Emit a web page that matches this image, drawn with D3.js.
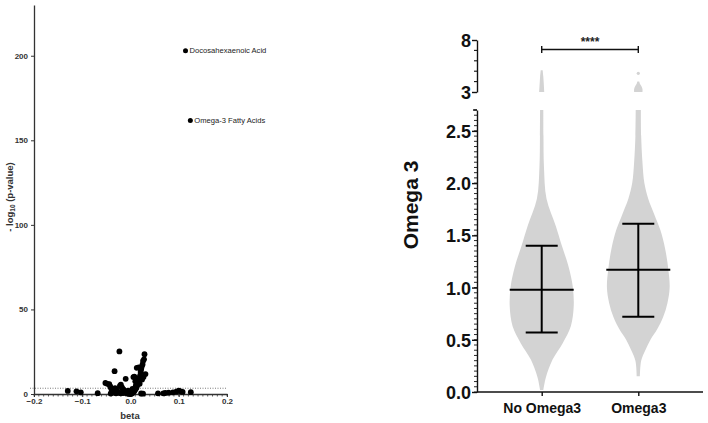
<!DOCTYPE html>
<html><head><meta charset="utf-8">
<script src="https://cdn.jsdelivr.net/npm/d3@7/dist/d3.min.js"></script>
<style>body{margin:0;background:#fff}svg{display:block;font-family:"Liberation Sans",Arial,sans-serif}</style>
</head><body><svg id="c" width="708" height="423"></svg>
<script>
// ---------- Left: volcano plot data ----------
const betaVals = [-0.130,-0.112,-0.103,-0.068,-0.052,-0.048,-0.044,-0.042,-0.040,-0.038,-0.036,-0.041,-0.035,
 -0.033,-0.023,-0.010,-0.032,-0.030,-0.028,-0.026,-0.024,-0.022,-0.020,-0.018,-0.016,-0.014,-0.012,-0.010,-0.008,
 -0.006,-0.004,-0.002,0.000,0.002,0.004,0.006,0.008,0.010,0.012,0.013,0.014,0.015,0.016,0.018,0.020,0.021,0.022,
 0.023,0.025,0.026,0.028,0.029,0.017,0.013,0.008,0.006,0.010,0.031,0.027,0.024,0.019,0.011,0.004,0.002,-0.020,
 -0.015,-0.030,-0.005,0.022,0.026,0.057,0.068,0.072,0.079,0.088,0.095,0.100,0.104,0.108,0.125];
const logPVals = [1.8,1.6,1.0,0.5,6.5,6.0,5.8,4.5,3.2,2.0,1.5,0.3,0.8,
 13.5,25.2,9.0,3.5,2.6,2.0,1.2,0.7,4.8,5.5,4.0,3.0,2.4,1.5,0.9,0.5,
 0.3,0.2,0.1,0.0,0.2,0.6,1.1,1.8,2.6,3.5,4.5,5.5,7.0,8.0,9.5,11.0,13.0,14.5,
 16.0,17.5,19.5,20.5,23.5,15.8,15.5,10.2,10.0,7.5,11.8,10.0,8.5,6.0,5.0,3.0,1.5,0.4,
 0.6,0.5,2.0,0.3,0.2,0.4,0.4,0.6,0.8,1.0,1.4,2.0,1.6,1.2,1.1];
const labeledNames = ["Docosahexaenoic Acid","Omega-3 Fatty Acids"];
const labeledBeta = [0.114,0.124];
const labeledLogP = [203,161.7];
const threshold = 3.4;
const volcanoXTicks = [-0.2,-0.1,0.0,0.1,0.2];
const volcanoYTicks = [0,50,100,150,200];

// ---------- Right: violin data ----------
const groups = ["No Omega3","Omega3"];
const noOmegaLevels = [0.02,0.14,0.31,0.47,0.63,0.82,1.01,1.20,1.40,1.59,1.85,2.16,2.45,2.70,3.0,3.5,4.0,4.5,5.1];
const noOmegaDensity = [0.05,0.13,0.34,0.66,0.91,1.0,0.97,0.84,0.63,0.44,0.15,0.07,0.055,0.05,0.08,0.07,0.06,0.05,0.03];
const omegaLevels = [0.15,0.3,0.4,0.5,0.6,0.72,0.85,1.0,1.17,1.37,1.55,1.7,1.85,2.0,2.2,2.45,2.70,3.0,3.3,3.6,3.8,4.0];
const omegaDensity = [0.05,0.09,0.22,0.38,0.59,0.78,0.91,0.98,0.94,0.84,0.69,0.5,0.31,0.19,0.13,0.09,0.08,0.13,0.13,0.09,0.05,0.03];
const omegaOutliers = [4.8];
const means = [0.98,1.17];
const upperSD = [1.40,1.61];
const lowerSD = [0.57,0.72];
const lowTicks = [0.0,0.5,1.0,1.5,2.0,2.5];
const topTicks = [3,8];
const sigLabel = "****";

const svg = d3.select("#c");

// ===== Volcano =====
const vx = d3.scaleLinear().domain([-0.2,0.2]).range([34,227]);
const vy = d3.scaleLinear().domain([0,230]).range([394,5]);
const axCol = "#333";
const gV = svg.append("g");
const xAxV = d3.axisBottom(vx).tickValues(volcanoXTicks).tickFormat(d3.format(".1f")).tickSize(3).tickSizeOuter(0).tickPadding(1.5);
const gx = gV.append("g").attr("transform","translate(0,394)").call(xAxV);
gx.selectAll("text").attr("font-size",8).attr("font-weight","bold").attr("fill",axCol);
gx.selectAll("line,path").attr("stroke",axCol);
gV.append("g").selectAll("line").data(d3.range(-20,21).map(i=>i/100)).join("line")
  .attr("x1",d=>vx(d)).attr("x2",d=>vx(d)).attr("y1",394).attr("y2",396.5).attr("stroke",axCol).attr("stroke-width",0.8);
const yAxV = d3.axisLeft(vy).tickValues(volcanoYTicks).tickSize(3).tickSizeOuter(0);
const gy = gV.append("g").attr("transform","translate(34,0)").call(yAxV);
gy.selectAll("text").attr("font-size",8).attr("font-weight","bold").attr("fill",axCol);
gy.selectAll("line,path").attr("stroke",axCol);
gy.select("path").attr("stroke-width",1.3);
gx.select("path").attr("stroke-width",1.3);
gV.append("line").attr("x1",30).attr("x2",vx(0.2)).attr("y1",vy(threshold)).attr("y2",vy(threshold))
  .attr("stroke","#444").attr("stroke-width",0.7).attr("stroke-dasharray","1,1.5");
gV.append("g").selectAll("circle").data(betaVals.map((b,i)=>[b,logPVals[i]])).join("circle")
  .attr("cx",d=>vx(d[0])).attr("cy",d=>vy(d[1])).attr("r",2.9).attr("fill","#000");
const lab = gV.append("g").selectAll("g").data(labeledNames.map((n,i)=>({n,b:labeledBeta[i],p:labeledLogP[i]}))).join("g");
lab.append("circle").attr("cx",d=>vx(d.b)).attr("cy",d=>vy(d.p)).attr("r",2.5).attr("fill","#000");
lab.append("text").attr("x",d=>vx(d.b)+4).attr("y",d=>vy(d.p)).attr("dy","0.35em")
  .attr("font-size",7.6).attr("fill","#222").text(d=>d.n);
gV.append("text").attr("x",130).attr("y",419).attr("text-anchor","middle").attr("font-size",9.5)
  .attr("font-weight","bold").attr("fill",axCol).text("beta");
const yl = gV.append("text").attr("transform","translate(13,197) rotate(-90)").attr("text-anchor","middle")
  .attr("font-size",9.5).attr("font-weight","bold").attr("fill",axCol);
yl.append("tspan").text("- log");
yl.append("tspan").attr("font-size",6.5).attr("dy",2).text("10");
yl.append("tspan").attr("dy",-2).text(" (p-value)");

// ===== Violin =====
const cx = d3.scalePoint().domain(groups).range([477,703]).padding(0.67);
const yLow = d3.scaleLinear().domain([0,2.7]).range([392,110]);
const yTop = d3.scaleLinear().domain([3,8]).range([92,40]);
const wS = d3.scaleLinear().domain([0,1]).range([0,32]);
const gR = svg.append("g");
const gray = "#d3d3d3";
const profiles = [[noOmegaLevels,noOmegaDensity],[omegaLevels,omegaDensity]];
profiles.forEach(([lv,dn],gi)=>{
  const c = cx(groups[gi]);
  const pts = lv.map((v,i)=>({v,d:dn[i]}));
  [[pts.filter(p=>p.v<=2.7),yLow],[pts.filter(p=>p.v>=3),yTop]].forEach(([seg,ys])=>{
    const area = d3.area().y(p=>ys(p.v)).x0(p=>c-wS(p.d)).x1(p=>c+wS(p.d)).curve(d3.curveCatmullRom);
    gR.append("path").datum(seg).attr("d",area).attr("fill",gray);
  });
});
gR.selectAll("circle.out").data(omegaOutliers).join("circle").attr("class","out")
  .attr("cx",cx("Omega3")).attr("cy",d=>yTop(d)).attr("r",1.6).attr("fill",gray);
groups.forEach((g,i)=>{
  const c = cx(g);
  const eb = gR.append("g").attr("stroke","#000").attr("stroke-width",2);
  eb.append("line").attr("x1",c).attr("x2",c).attr("y1",yLow(upperSD[i])).attr("y2",yLow(lowerSD[i]));
  eb.append("line").attr("x1",c-32).attr("x2",c+32).attr("y1",yLow(means[i])).attr("y2",yLow(means[i]));
  [upperSD[i],lowerSD[i]].forEach(v=>eb.append("line").attr("x1",c-16).attr("x2",c+16).attr("y1",yLow(v)).attr("y2",yLow(v)));
});
const axL = gR.append("g").attr("transform","translate(477,0)")
  .call(d3.axisLeft(yLow).tickValues(lowTicks).tickFormat(d3.format(".1f")).tickSize(5).tickSizeOuter(0));
axL.selectAll("text").attr("font-size",18).attr("font-weight","bold").attr("fill","#111").attr("x",-6).attr("dy","0.36em");
axL.selectAll("line,path").attr("stroke","#111").attr("stroke-width",1.4);
gR.append("g").selectAll("line").data(d3.range(0,55).map(i=>i*0.05)).join("line")
  .attr("x1",474).attr("x2",477).attr("y1",d=>yLow(d)).attr("y2",d=>yLow(d)).attr("stroke","#111").attr("stroke-width",0.9);
gR.append("line").attr("x1",473).attr("x2",477).attr("y1",110).attr("y2",110).attr("stroke","#111").attr("stroke-width",1.4);
const axT = gR.append("g").attr("transform","translate(477,0)")
  .call(d3.axisLeft(yTop).tickValues(topTicks).tickFormat(d3.format("d")).tickSize(5).tickSizeOuter(0));
axT.selectAll("text").attr("font-size",18).attr("font-weight","bold").attr("fill","#111").attr("x",-6).attr("dy","0.36em");
axT.selectAll("line,path").attr("stroke","#111").attr("stroke-width",1.4);
gR.append("g").selectAll("line").data([4,5,6,7]).join("line")
  .attr("x1",474).attr("x2",477).attr("y1",d=>yTop(d)).attr("y2",d=>yTop(d)).attr("stroke","#111").attr("stroke-width",1.1);
const axB = gR.append("g").attr("transform","translate(0,392)")
  .call(d3.axisBottom(cx).tickSize(4).tickSizeOuter(0).tickPadding(7));
axB.selectAll("text").attr("font-size",14).attr("font-weight","bold").attr("fill","#111");
axB.selectAll("line,path").attr("stroke","#111").attr("stroke-width",1.4);
axB.select("path").attr("d","M477,0H703");
gR.append("text").attr("transform","translate(418,205) rotate(-90)").attr("text-anchor","middle")
  .attr("font-size",21).attr("font-weight","bold").attr("fill","#111").text("Omega 3");
const x1 = cx(groups[0]), x2 = cx(groups[1]), by = 49.5;
const br = gR.append("g").attr("stroke","#111").attr("stroke-width",1.4);
br.append("line").attr("x1",x1).attr("x2",x2).attr("y1",by).attr("y2",by);
br.append("line").attr("x1",x1).attr("x2",x1).attr("y1",by-3.5).attr("y2",by+3.5);
br.append("line").attr("x1",x2).attr("x2",x2).attr("y1",by-3.5).attr("y2",by+3.5);
gR.append("text").attr("x",(x1+x2)/2).attr("y",by-4).attr("text-anchor","middle").attr("font-size",12)
  .attr("font-weight","bold").attr("fill","#222").text(sigLabel);
</script></body></html>
